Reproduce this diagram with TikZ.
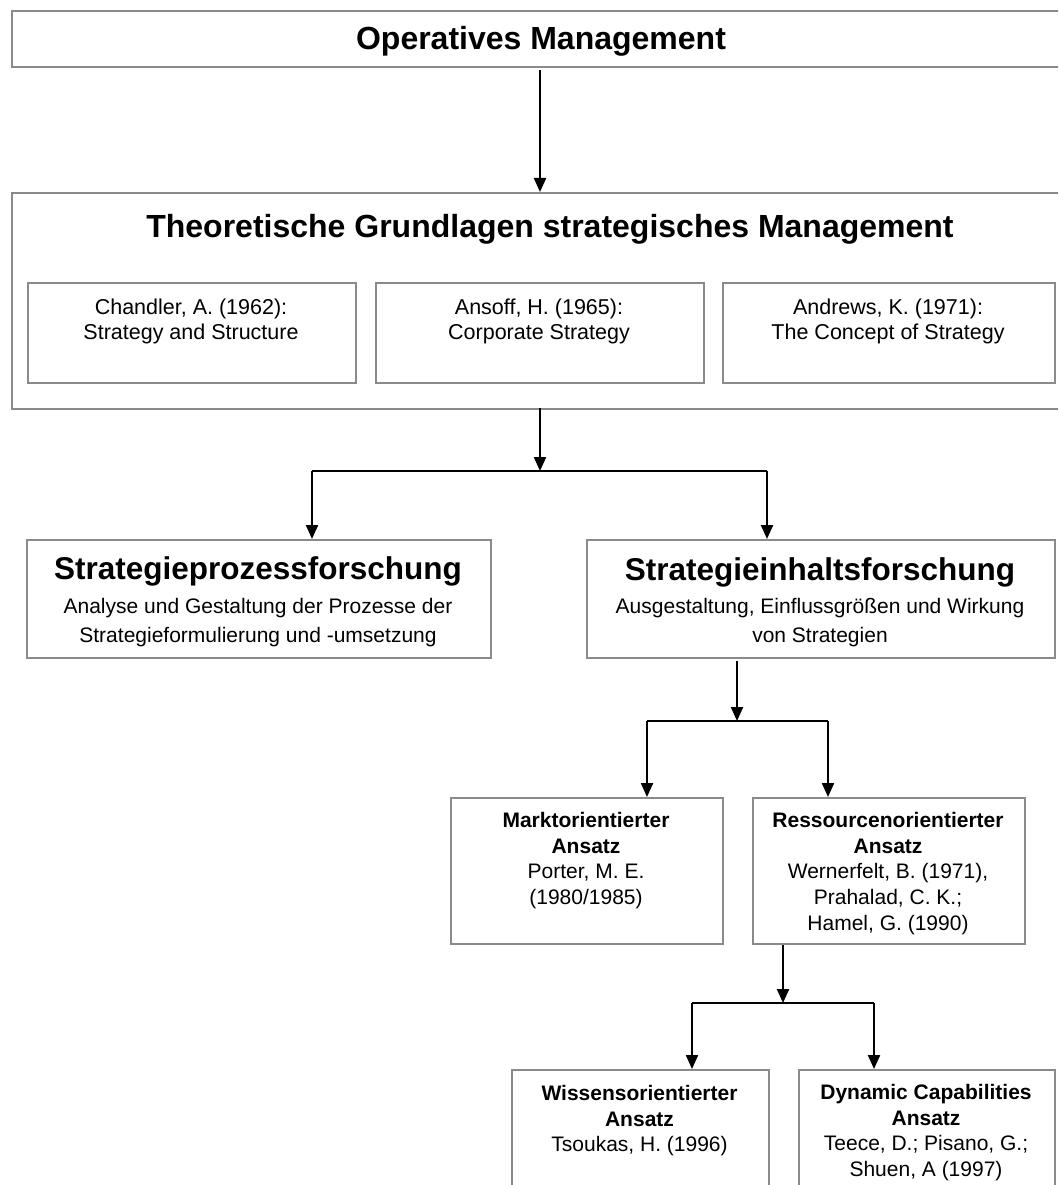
\documentclass[tikz,border=0pt]{standalone}
\usepackage{fontspec}
\setmainfont{Liberation Sans}
\usetikzlibrary{arrows.meta,calc}
\definecolor{boxgray}{HTML}{8A8A8A}
\begin{document}
\begin{tikzpicture}[x=1pt,y=-1pt,
  box/.style={draw=boxgray,line width=2pt,inner sep=0pt,anchor=north west},
  conn/.style={line width=2.2pt,black},
  bar/.style={line width=2.8pt,black},
  arr/.style={conn,-{Triangle[length=14pt,width=12pt]}},
  txt/.style={inner sep=0pt,align=center},
  big/.style={txt,font=\fontsize{32}{36}\selectfont\bfseries},
  head/.style={txt,font=\fontsize{31.5}{36}\selectfont\bfseries},
  lit/.style={txt,font=\fontsize{21.5}{24.4}\selectfont},
  sub/.style={txt,font=\fontsize{21}{29}\selectfont},
  leaf/.style={txt,font=\fontsize{21}{25.7}\selectfont}]
\useasboundingbox (0,0) rectangle (1058,1185);
\clip (0,0) rectangle (1058,1185);
\fill[white] (0,0) rectangle (1058,1185);
% boxes
\node[box,minimum width=1070pt,minimum height=56pt] (top) at (11,10) {};
\node[box,minimum width=1070pt,minimum height=216pt] (theory) at (11,192) {};
\node[box,minimum width=328pt,minimum height=100pt] (chandler) at (27,282) {};
\node[box,minimum width=328pt,minimum height=100pt] (ansoff) at (375,282) {};
\node[box,minimum width=332pt,minimum height=100pt] (andrews) at (722,282) {};
\node[box,minimum width=464pt,minimum height=118pt] (prozess) at (26,539) {};
\node[box,minimum width=468pt,minimum height=118pt] (inhalt) at (586,539) {};
\node[box,minimum width=272pt,minimum height=146pt] (markt) at (450,797) {};
\node[box,minimum width=272pt,minimum height=146pt] (ress) at (752,797) {};
\node[box,minimum width=257pt,minimum height=150pt] (wissen) at (511,1069) {};
\node[box,minimum width=256pt,minimum height=150pt] (dyn) at (798,1069) {};
% texts
\node[big,anchor=base] (ttop) at (541,49.5) {Operatives Management};
\node[big,anchor=base] (ttheory) at (550,237) {Theoretische Grundlagen strategisches Management};
\node[lit,anchor=north] (tch) at (191,299) {Chandler, A. (1962):\\Strategy and Structure};
\node[lit,anchor=north] (tan) at (539,299) {Ansoff, H. (1965):\\Corporate Strategy};
\node[lit,anchor=north] (tad) at (888,299) {Andrews, K. (1971):\\The Concept of Strategy};
\node[head,anchor=base] (tpz) at (258,579) {Strategieprozessforschung};
\node[sub,anchor=north] (tpzs) at (258,598) {Analyse und Gestaltung der Prozesse der\\Strategieformulierung und -umsetzung};
\node[head,anchor=base] (tih) at (820,580) {Strategieinhaltsforschung};
\node[sub,anchor=north] (tihs) at (820,598) {Ausgestaltung, Einflussgrößen und Wirkung\\von Strategien};
\node[leaf,anchor=north] (tmk) at (586,812) {\textbf{Marktorientierter}\\\textbf{Ansatz}\\Porter, M. E.\\(1980/1985)};
\node[leaf,anchor=north] (trs) at (888,812) {\textbf{Ressourcenorientierter}\\\textbf{Ansatz}\\Wernerfelt, B. (1971),\\Prahalad, C. K.;\\Hamel, G. (1990)};
\node[leaf,anchor=north] (tws) at (639.5,1085) {\textbf{Wissensorientierter}\\\textbf{Ansatz}\\Tsoukas, H. (1996)};
\node[leaf,anchor=north] (tdy) at (926,1084) {\textbf{Dynamic Capabilities}\\\textbf{Ansatz}\\Teece, D.; Pisano, G.;\\Shuen, A (1997)};
% connectors
\coordinate (j1) at (540,471);
\coordinate (j1l) at (312,471);
\coordinate (j1r) at (767,471);
\coordinate (j2) at (737,721);
\coordinate (j2l) at (647,721);
\coordinate (j2r) at (828,721);
\coordinate (j3) at (783,1003);
\coordinate (j3l) at (692,1003);
\coordinate (j3r) at (874,1003);
\draw[arr] ($(top.south -| j1)+(0,2)$) -- (theory.north -| j1);
\draw[arr] ($(theory.south -| j1)+(0,-2)$) -- (j1);
\draw[bar] (j1l) -- (j1r);
\draw[arr] (j1l) -- (prozess.north -| j1l);
\draw[arr] (j1r) -- (inhalt.north -| j1r);
\draw[arr] ($(inhalt.south -| j2)+(0,2)$) -- (j2);
\draw[bar] (j2l) -- (j2r);
\draw[arr] (j2l) -- (markt.north -| j2l);
\draw[arr] (j2r) -- (ress.north -| j2r);
\draw[arr] (ress.south -| j3) -- (j3);
\draw[bar] (j3l) -- (j3r);
\draw[arr] (j3l) -- (wissen.north -| j3l);
\draw[arr] (j3r) -- (dyn.north -| j3r);
\end{tikzpicture}
\end{document}
